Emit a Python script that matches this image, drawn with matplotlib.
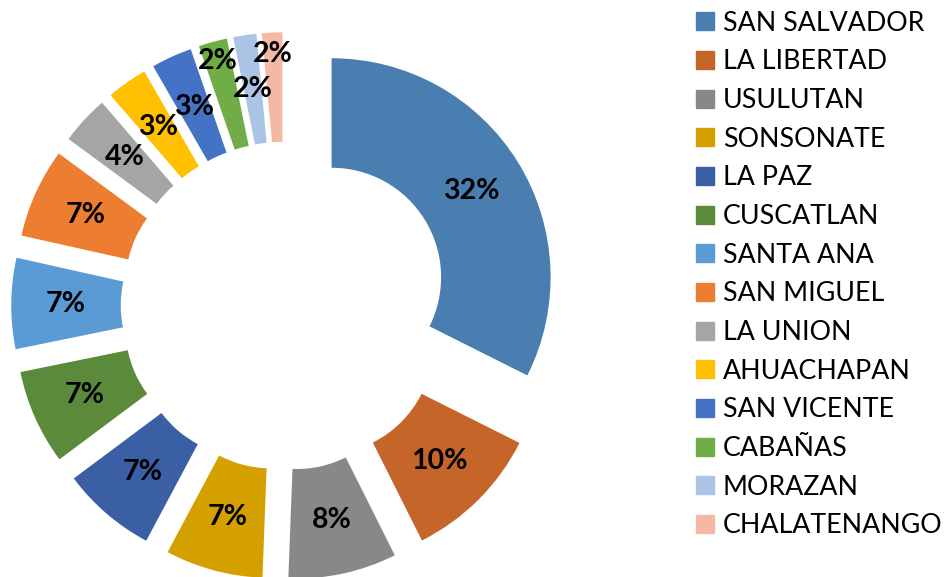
import matplotlib
matplotlib.use("Agg")
import matplotlib.pyplot as plt
import matplotlib.patches as mpatches
import numpy as np

plt.rcParams['font.family'] = ['Lato', 'DejaVu Sans']

# datos por departamento (porcentaje)
departamentos = ['SAN SALVADOR', 'LA LIBERTAD', 'USULUTAN', 'SONSONATE', 'LA PAZ',
                 'CUSCATLAN', 'SANTA ANA', 'SAN MIGUEL', 'LA UNION', 'AHUACHAPAN',
                 'SAN VICENTE', 'CABAÑAS', 'MORAZAN', 'CHALATENANGO']
valores = [32.4, 10.2, 8.0, 7.2, 7.0, 7.0, 6.7, 6.6, 3.6, 3.0, 3.0, 2.1, 1.7, 1.5]
etiquetas = ['32%', '10%', '8%', '7%', '7%', '7%', '7%', '7%', '4%', '3%', '3%',
             '2%', '2%', '2%']
colores = ['#4A7EB0', '#C5652A', '#888888', '#D4A000', '#3A5FA5', '#5A8A3A',
           '#5B9BD5', '#ED7D31', '#A5A5A5', '#FFC000', '#4472C4', '#70AD47',
           '#ABC4E6', '#F4B8A4']
# distancia radial de cada etiqueta (fraccion del radio)
dist_etiqueta = [0.75] * 11 + [0.91, 0.75, 0.9]

W, H = 946, 577
cx, cy, R = 285, 306, 219  # centro y radio en pixeles
explode = 0.25
ancho = 0.5

fig = plt.figure(figsize=(W / 100, H / 100), dpi=100)
ax = fig.add_axes([0, 0, 1, 1])

wedges, _ = ax.pie(valores, colors=colores, startangle=90, counterclock=False,
                   explode=[explode] * len(valores), radius=1.0,
                   wedgeprops=dict(width=ancho, edgecolor='none'))

for w, lab, d in zip(wedges, etiquetas, dist_etiqueta):
    ang = np.deg2rad((w.theta1 + w.theta2) / 2)
    ox, oy = explode * np.cos(ang), explode * np.sin(ang)
    ax.text(ox + d * np.cos(ang), oy + d * np.sin(ang), lab,
            ha='center', va='center', fontsize=20.5, fontweight='bold', color='black')

ax.set_aspect('auto')
ax.set_xlim(-cx / R, (W - cx) / R)
ax.set_ylim(-(H - cy) / R, cy / R)
ax.axis('off')

handles = [mpatches.Patch(color=c, label=n) for c, n in zip(colores, departamentos)]
fig.legend(handles=handles, loc='upper left', bbox_to_anchor=(685 / W, 1.0),
           frameon=False, fontsize=19.3, handlelength=0.67, handleheight=0.67,
           handletextpad=0.34, labelspacing=0.51, borderaxespad=0.0)

fig.savefig('out.png', dpi=100)
